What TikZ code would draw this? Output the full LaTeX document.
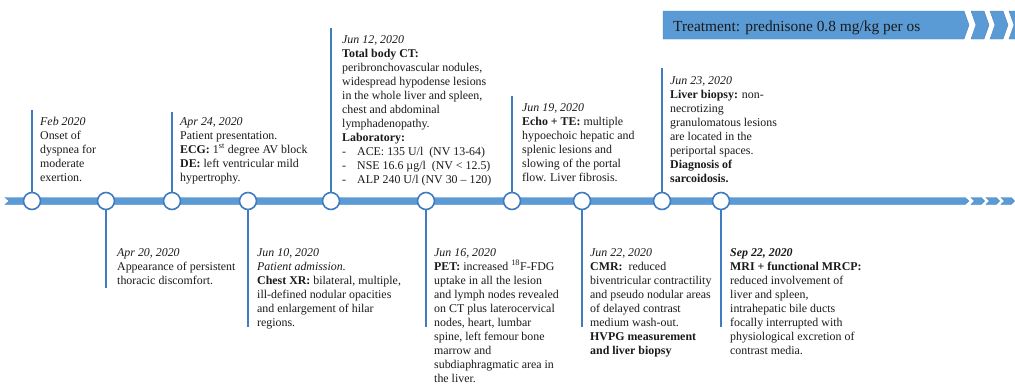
\documentclass[tikz,border=0pt]{standalone}
\usepackage{fontspec}
\setmainfont{Liberation Serif}
\definecolor{barblue}{HTML}{5B9BD5}
\definecolor{baredge}{HTML}{4A86C5}
\definecolor{lineblue}{HTML}{3F7CC0}
\definecolor{txt}{HTML}{1A1A1A}
\tikzset{
  evtext/.style={anchor=north west, inner sep=0pt, align=left, text=txt, font=\fontsize{11.9}{14}\selectfont},
  evdot/.style={circle, draw=lineblue, line width=1.6pt, fill=white, minimum size=17pt, inner sep=0pt},
  vline/.style={draw=lineblue, line width=2pt},
  barshape/.style={fill=barblue, draw=baredge, line width=0.4pt},
}
\begin{document}
\begin{tikzpicture}[x=1pt,y=-1pt]
\useasboundingbox (0,0) rectangle (1015,383);
\fill[white] (0,0) rectangle (1015,383);

% treatment banner
\path[barshape] (663,11) -- (964,11) -- (969,25) -- (964,39) -- (663,39) -- cycle;
\foreach \k in {0,1,2}{
  \pgfmathsetmacro{\xo}{971+19*\k}
  \path[barshape] (\xo,11) -- (\xo+13,11) -- (\xo+18,25) -- (\xo+13,39) -- (\xo,39) -- (\xo+5,25) -- cycle;
}
\node[anchor=base west, inner sep=0pt, text=txt, font=\fontsize{15.4}{18}\selectfont] (treat) at (673,31.5) {Treatment: prednisone 0.8 mg/kg per os};

% timeline bar
\path[barshape] (5,197.5) -- (965,197.5) -- (969,201) -- (965,204.5) -- (5,204.5) -- (9,201) -- cycle;
\foreach \k in {0,1,2}{
  \pgfmathsetmacro{\xo}{971+15*\k}
  \path[barshape] (\xo,197.5) -- (\xo+10,197.5) -- (\xo+13.5,201) -- (\xo+10,204.5) -- (\xo,204.5) -- (\xo+3.5,201) -- cycle;
}

% line end coordinates
\coordinate (t1) at (32,110);
\coordinate (t2) at (106,288);
\coordinate (t3) at (172,112);
\coordinate (t4) at (248,327);
\coordinate (t5) at (331,28);
\coordinate (t6) at (426,327);
\coordinate (t7) at (512,96);
\coordinate (t8) at (582,327);
\coordinate (t9) at (662,68);
\coordinate (t10) at (721,327);

% event circles
\node[evdot] (c1) at (32,201) {};
\node[evdot] (c2) at (106,201) {};
\node[evdot] (c3) at (172,201) {};
\node[evdot] (c4) at (248,201) {};
\node[evdot] (c5) at (331,201) {};
\node[evdot] (c6) at (426,201) {};
\node[evdot] (c7) at (512,201) {};
\node[evdot] (c8) at (582,201) {};
\node[evdot] (c9) at (662,201) {};
\node[evdot] (c10) at (721,201) {};

\draw[vline] (c1.north) -- (t1);
\draw[vline] (c2.south) -- (t2);
\draw[vline] (c3.north) -- (t3);
\draw[vline] (c4.south) -- (t4);
\draw[vline] (c5.north) -- (t5);
\draw[vline] (c6.south) -- (t6);
\draw[vline] (c7.north) -- (t7);
\draw[vline] (c8.south) -- (t8);
\draw[vline] (c9.north) -- (t9);
\draw[vline] (c10.south) -- (t10);

% texts above
\node[evtext] (e1) at (40,117) {\textit{Feb 2020}\\Onset of\\dyspnea for\\moderate\\exertion.};
\node[evtext] (e3) at (180,117) {\textit{Apr 24, 2020}\\Patient presentation.\\\textbf{ECG:} 1\textsuperscript{st} degree AV block\\\textbf{DE:} left ventricular mild\\hypertrophy.};
\node[evtext] (e5) at (342,35) {\textit{Jun 12, 2020}\\\textbf{Total body CT:}\\peribronchovascular nodules,\\widespread hypodense lesions\\in the whole liver and spleen,\\chest and abdominal\\lymphadenopathy.\\\textbf{Laboratory:}\\\makebox[15pt][l]{-}ACE: 135 U/l~ (NV 13-64)\\\makebox[15pt][l]{-}NSE 16.6 µg/l~ (NV < 12.5)\\\makebox[15pt][l]{-}ALP 240 U/l (NV 30 – 120)};
\node[evtext] (e7) at (522,103) {\textit{Jun 19, 2020}\\\textbf{Echo + TE:} multiple\\hypoechoic hepatic and\\splenic lesions and\\slowing of the portal\\flow. Liver fibrosis.};
\node[evtext] (e9) at (670,76) {\textit{Jun 23, 2020}\\\textbf{Liver biopsy:} non-\\necrotizing\\granulomatous lesions\\are located in the\\periportal spaces.\\\textbf{Diagnosis of}\\\textbf{sarcoidosis.}};

% texts below
\node[evtext] (e2) at (117,248) {\textit{Apr 20, 2020}\\Appearance of persistent\\thoracic discomfort.};
\node[evtext] (e4) at (257,248) {\textit{Jun 10, 2020}\\\textit{Patient admission.}\\\textbf{Chest XR:} bilateral, multiple,\\ill-defined nodular opacities\\and enlargement of hilar\\regions.};
\node[evtext] (e6) at (434,248) {\textit{Jun 16, 2020}\\\textbf{PET:} increased \textsuperscript{18}F-FDG\\uptake in all the lesion\\and lymph nodes revealed\\on CT plus laterocervical\\nodes, heart, lumbar\\spine, left femour bone\\marrow and\\subdiaphragmatic area in\\the liver.};
\node[evtext] (e8) at (590,248) {\textit{Jun 22, 2020}\\\textbf{CMR:}~ reduced\\biventricular contractility\\and pseudo nodular areas\\of delayed contrast\\medium wash-out.\\\textbf{HVPG measurement}\\\textbf{and liver biopsy}};
\node[evtext] (e10) at (730,248) {\textbf{\textit{Sep 22, 2020}}\\\textbf{MRI + functional MRCP:}\\reduced involvement of\\liver and spleen,\\intrahepatic bile ducts\\focally interrupted with\\physiological excretion of\\contrast media.};
\end{tikzpicture}
\end{document}
